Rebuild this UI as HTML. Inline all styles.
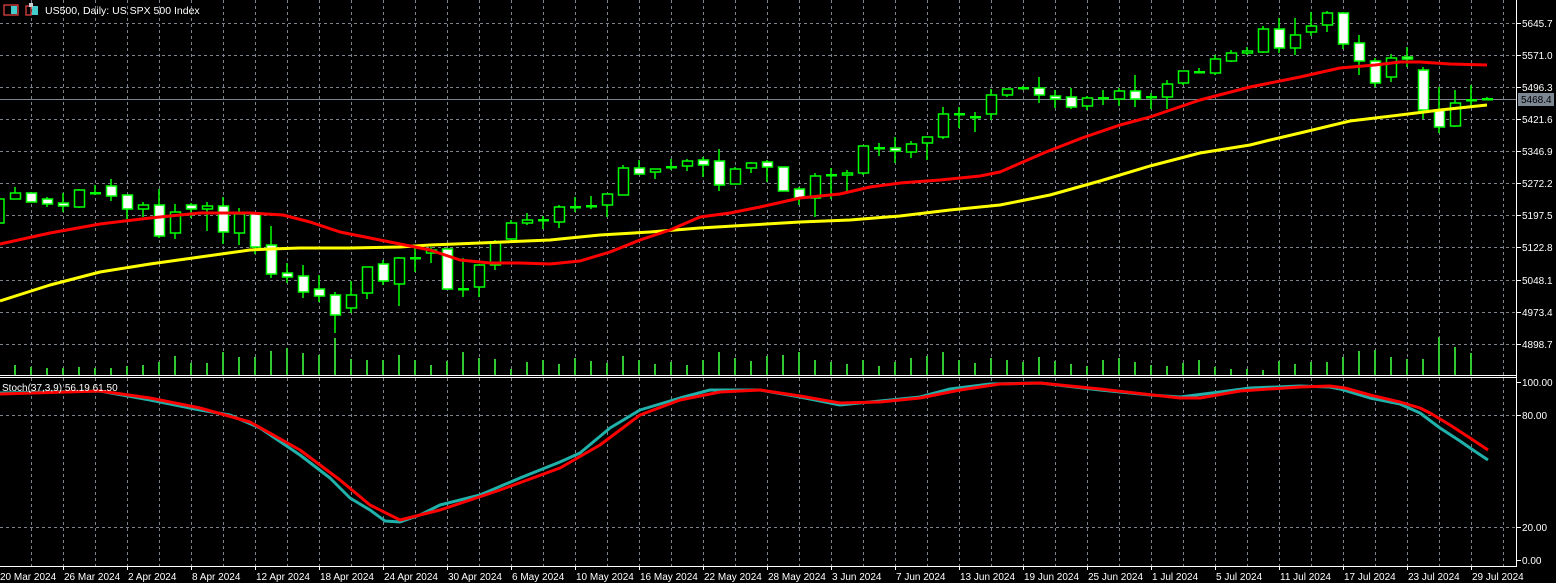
<!DOCTYPE html>
<html><head><meta charset="utf-8"><style>
html,body{margin:0;padding:0;background:#000;}
svg{display:block;font-family:"Liberation Sans",sans-serif;}
</style></head><body>
<svg id="s" width="1556" height="583" xmlns="http://www.w3.org/2000/svg"></svg>
<script>
var s=document.getElementById('s'),h='';
function L(x1,y1,x2,y2,c,w,d){h+='<line x1="'+x1+'" y1="'+y1+'" x2="'+x2+'" y2="'+y2+'" stroke="'+c+'" stroke-width="'+(w||1)+'"'+(d?' stroke-dasharray="'+d+'"':'')+'/>';}
function T(x,y,t,c,sz,a){h+='<text x="'+x+'" y="'+y+'" fill="'+c+'" font-size="'+(sz||10)+'"'+(a?' text-anchor="'+a+'"':'')+'>'+t+'</text>';}
var G='#7d838c';
for(var x=31;x<1516;x+=32){L(x+.5,0,x+.5,375,G,1,'3,3');L(x+.5,378,x+.5,566,G,1,'3,3');}
var py=[23,55,87,119,151,183,215,247,280,312,344],pl=['5645.7','5571.0','5496.3','5421.6','5346.9','5272.2','5197.5','5122.8','5048.1','4973.4','4898.7'];
py.forEach(function(y){L(0,y+.5,1516,y+.5,G,1,'3,3');});
[415,527].forEach(function(y){L(0,y+.5,1516,y+.5,G,1,'3,3');});
L(0,99.5,1516,99.5,'#7d838c',1);
var vt=[365,367,368,368,367,368,368,366,365,362,356,363,363,352,357,357,351,348,353,355,338,359,360,360,355,360,365,361,352,358,359,369,
362,360,364,358,361,363,356,360,364,362,365,360,352,358,361,356,355,352,360,362,364,360,366,362,358,356,352,360,363,358,360,362,357,361,364,366,360,358,362,365,366,363,360,
367,369,369,370,361,364,362,362,357,351,350,357,359,359,337,347,353];
vt.forEach(function(t,k){var x=15+16*k;L(x,t,x,375,'#32c832',2);});
var c=[[193,199,187,199,0],[193,202,192,202,1],[199,204,197,207,1],[203,206,193,212,1],[190,207,189,208,0],[193,193,185,195,2],[186,196,179,201,1],[195,209,195,219,1],[205,209,202,217,0],[205,236,189,238,1],
[212,233,204,239,0],[205,209,203,218,1],[206,209,202,231,0],[206,232,197,244,1],[214,233,208,245,0],[213,247,213,254,1],[245,274,226,278,1],[273,277,263,283,1],[276,292,265,298,1],[289,296,275,302,1],
[295,315,292,333,1],[295,308,281,313,0],[267,293,267,299,0],[264,281,260,285,1],[258,284,257,306,0],[258,258,248,272,2],[250,253,247,263,0],[249,289,249,290,1],[289,289,258,297,2],[265,287,265,297,0],
[242,265,240,270,0],[223,239,220,240,0],[220,223,213,225,0],[220,220,216,229,2],[207,222,205,228,0],[207,207,197,212,2],[206,206,196,209,2],[194,205,194,217,0],[168,195,165,195,0],[168,174,160,175,1],
[169,172,169,179,0],[167,167,159,170,2],[161,166,159,171,0],[160,165,157,177,1],[161,185,149,191,1],[169,184,167,184,0],[163,168,162,173,0],[162,167,160,182,1],[167,191,167,191,1],[189,198,187,205,1],
[176,198,173,217,0],[175,175,168,199,2],[173,175,170,193,0],[146,173,146,175,0],[148,148,143,156,2],[148,151,137,163,1],[144,152,141,158,0],[137,143,137,160,0],[114,137,107,139,0],[114,114,107,128,2],
[117,117,112,132,2],[95,114,89,120,0],[89,95,89,97,0],[88,88,86,90,2],[88,95,77,103,1],[96,99,90,108,1],[97,107,88,109,1],[98,106,96,110,0],[98,98,90,105,2],[91,99,88,106,0],
[91,99,75,107,1],[97,97,93,109,2],[84,97,80,109,0],[71,83,71,85,0],[72,72,68,73,2],[59,73,55,75,0],[53,61,50,62,0],[51,53,47,55,0],[29,52,26,53,0],[29,48,18,53,1],
[35,48,18,55,0],[26,32,12,36,0],[13,25,11,32,0],[13,44,12,49,1],[43,61,35,75,1],[61,83,58,87,1],[58,77,54,82,0],[57,59,47,67,1],[70,110,67,119,1],[110,127,87,133,1],
[103,126,90,127,0],[100,100,85,108,2],[99,99,97,100,2]];
h+='<rect x="-5" y="199" width="9" height="24" fill="#000" stroke="#00ff00" stroke-width="1.5"/>';
c.forEach(function(b,k){var x=15+16*k;
 if(b[4]==2){L(x,b[2],x,b[3],'#00ff00',1.5);h+='<rect x="'+(x-5)+'" y="'+(b[0]-1)+'" width="11" height="2.5" fill="#00ff00"/>';return;}
 L(x,b[2],x,b[3],'#00ff00',1.5);
 var hh=Math.max(b[1]-b[0],2);
 h+='<rect x="'+(x-4.5)+'" y="'+b[0]+'" width="10" height="'+hh+'" fill="'+(b[4]==1?'#fff':'#000')+'" stroke="#00ff00" stroke-width="1.5"/>';
});
function P(pts,c,w){h+='<polyline fill="none" stroke="'+c+'" stroke-width="'+w+'" stroke-linejoin="round" points="'+pts.map(function(p){return p.join(',')}).join(' ')+'"/>';}
P([[0,301],[50,285],[100,272],[150,264],[200,257],[250,250],[270,249],[300,248],[350,248],[400,247],[430,245],[480,243],[550,240],[600,235],[650,232],[700,228],[750,225],[800,222],[850,220],[900,216],[950,210],[1000,205],[1050,195],[1100,181],[1150,166],[1200,153],[1250,145],[1270,140],[1300,133],[1350,121],[1400,115],[1440,110],[1487,105]],'#ffff00',3);
P([[0,244],[50,233],[100,224],[150,218],[200,213],[250,213],[283,215],[310,222],[340,232],[380,240],[400,244],[430,250],[460,260],[490,263],[520,263],[550,264],[580,261],[610,252],[640,240],[670,230],[700,217],[730,213],[760,207],[800,198],[840,194],[870,187],[900,183],[940,180],[980,176],[1000,172],[1046,152],[1082,138],[1120,125],[1150,117],[1200,100],[1250,87],[1300,77],[1340,68],[1375,65],[1400,62],[1420,62],[1450,64],[1487,65]],'#ff0000',3);
P([[0,393],[100,391],[150,400],[200,410],[230,415],[260,428],[300,455],[330,478],[350,498],[370,510],[385,521],[400,522],[420,515],[440,505],[480,495],[520,478],[560,462],[580,453],[610,428],[640,410],[680,398],[710,390],[760,390],[800,397],[840,405],[870,402],[920,397],[950,389],[990,384],[1040,383],[1100,390],[1150,395],[1180,397],[1220,392],[1250,388],[1300,386],[1330,387],[1340,389],[1370,398],[1400,404],[1420,413],[1440,428],[1460,441],[1473,450],[1488,460]],'#20b2aa',3);
P([[0,394],[100,391],[150,398],[200,408],[250,422],[300,450],[340,480],[370,505],[400,520],[440,510],[500,490],[560,468],[600,445],[640,415],[680,400],[720,392],[760,390],[800,396],[840,403],[880,402],[920,398],[960,390],[1000,384],[1040,383],[1100,389],[1180,398],[1200,398],[1240,391],[1300,387],[1330,386],[1345,388],[1370,395],[1400,402],[1420,408],[1430,413],[1450,425],[1470,438],[1488,450]],'#ff0000',3);
L(1516.5,0,1516.5,567,'#fff',1);
L(0,375.5,1517,375.5,'#fff',1);L(0,377.5,1517,377.5,'#fff',1);L(0,566.5,1517,566.5,'#fff',1);
py.forEach(function(y,i){L(1516,y+.5,1521,y+.5,'#fff',1);T(1522,y+4,pl[i],'#fff',10);});
[[382,'100.00'],[415,'80.00'],[527,'20.00'],[560,'0.00']].forEach(function(a){L(1516,a[0]+.5,1521,a[0]+.5,'#fff',1);T(1522,a[0]+4,a[1],'#fff',10);});
h+='<rect x="1518" y="93" width="36" height="13" fill="#7c8794"/>';T(1521,103,'5468.4','#000',10);
var dl=['20 Mar 2024','26 Mar 2024','2 Apr 2024','8 Apr 2024','12 Apr 2024','18 Apr 2024','24 Apr 2024','30 Apr 2024','6 May 2024','10 May 2024','16 May 2024','22 May 2024','28 May 2024','3 Jun 2024','7 Jun 2024','13 Jun 2024','19 Jun 2024','25 Jun 2024','1 Jul 2024','5 Jul 2024','11 Jul 2024','17 Jul 2024','23 Jul 2024','29 Jul 2024'];
dl.forEach(function(t,i){var x=-1+64*i;L(x+.5,566,x+.5,570,'#fff',1);T(x+1,580,t,'#fff',10);});
h+='<rect x="4" y="5" width="14" height="10" fill="none" stroke="#e04040" stroke-width="1.3"/><rect x="11" y="6" width="6" height="8" fill="#4cc"/>';
h+='<rect x="26" y="6" width="5" height="9" fill="none" stroke="#e04040" stroke-width="1.3"/><rect x="32" y="6" width="6" height="9" fill="#4cc"/><rect x="29" y="3" width="4" height="4" fill="#ccc"/>';
T(45,14,'US500, Daily:  US SPX 500 Index','#fff',10.5);
T(2,391,'Stoch(37,3,9) 56.19 61.50','#fff',10);
s.innerHTML=h;
</script>
</body></html>
